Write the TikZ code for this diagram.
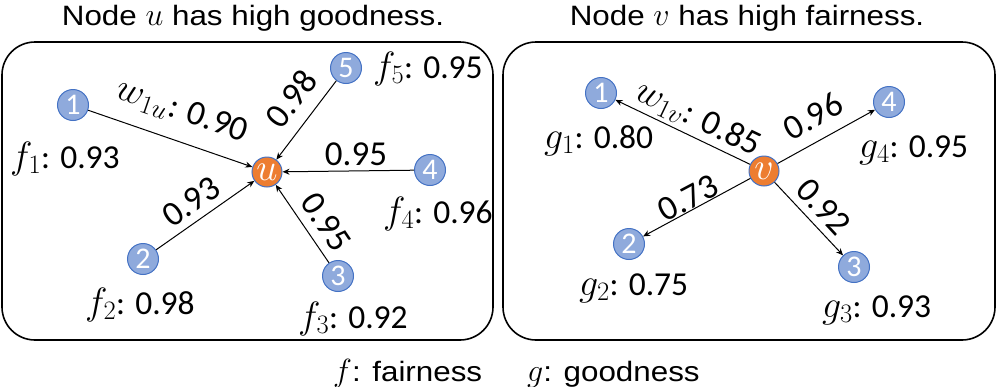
\RequirePackage{fix-cm}
\documentclass[tikz,border=0pt]{standalone}
\usepackage{fontspec}
\setmainfont{Carlito}
\newfontfamily\titlefont[FakeStretch=1.12]{Liberation Sans}
\usetikzlibrary{arrows.meta}
\definecolor{nodeblue}{HTML}{8FAADC}
\definecolor{edgeblue}{HTML}{4472C4}
\definecolor{hubor}{HTML}{ED7D31}
\newcommand{\mth}[1]{{\fontsize{38}{38}\selectfont$#1$}}
\newcommand{\mtt}[1]{{\fontsize{32}{32}\selectfont$#1$}}
\begin{document}
\begin{tikzpicture}[x=1pt,y=-1pt,
 leaf/.style={circle, fill=nodeblue, draw=edgeblue, line width=1pt, minimum size=31pt, inner sep=0pt, text=white, font=\fontsize{30}{30}\selectfont},
 hub/.style={circle, fill=hubor, draw=edgeblue, line width=1pt, minimum size=30pt, inner sep=0pt, text=white, font=\fontsize{38}{38}\selectfont},
 lbl/.style={font=\fontsize{35}{35}\selectfont, inner sep=0pt},
 ann/.style={font=\fontsize{33.5}{33.5}\selectfont, inner sep=0pt, anchor=base west},
 ttl/.style={font=\titlefont\fontsize{28}{28}\selectfont, inner sep=0pt, anchor=base},
 leg/.style={font=\titlefont\fontsize{28}{28}\selectfont, inner sep=0pt, anchor=base west},
 frame/.style={draw, line width=1.6pt, rounded corners=33pt},
 arr/.style={-{Stealth[length=7pt,width=6pt]}, line width=1pt}]
\useasboundingbox (0,0) rectangle (997,386);
% frames
\draw[frame] (2,42) rectangle (493,340);
\draw[frame] (503,42) rectangle (995,340);
% titles
\node[ttl] (t1) at (253,25) {Node \mtt{u} has high goodness.};
\node[ttl] (t2) at (747,25) {Node \mtt{v} has high fairness.};
% left graph
\node[hub] (u) at (267,172) {$u$};
\node[leaf] (a1) at (73,105) {1};
\node[leaf] (a2) at (143,259) {2};
\node[leaf] (a3) at (338,276) {3};
\node[leaf] (a4) at (430,170) {4};
\node[leaf] (a5) at (346,68) {5};
\draw[arr] (a1) -- (u);
\draw[arr] (a2) -- (u);
\draw[arr] (a3) -- (u);
\draw[arr] (a4) -- (u);
\draw[arr] (a5) -- (u);
\node[lbl, rotate=-19] (e1) at (182,112) {\mth{w_{1u}}: 0.90};
\node[lbl, rotate=52] (e5) at (291,99) {0.98};
\node[lbl] (e4) at (356,154) {0.95};
\node[lbl, rotate=35] (e2) at (191,202) {0.93};
\node[lbl, rotate=-56] (e3) at (326,222) {0.95};
\node[ann] (f1) at (10,168) {\mth{f_1}: 0.93};
\node[ann] (f5) at (373,78) {\mth{f_5}: 0.95};
\node[ann] (f4) at (383,223) {\mth{f_4}: 0.96};
\node[ann] (f2) at (85,314) {\mth{f_2}: 0.98};
\node[ann] (f3) at (298,328) {\mth{f_3}: 0.92};
% right graph
\node[hub] (v) at (764,171) {$v$};
\node[leaf] (b1) at (601,93) {1};
\node[leaf] (b2) at (629,244) {2};
\node[leaf] (b3) at (854,267) {3};
\node[leaf] (b4) at (889,102) {4};
\draw[arr] (v) -- (b1);
\draw[arr] (v) -- (b2);
\draw[arr] (v) -- (b3);
\draw[arr] (v) -- (b4);
\node[lbl, rotate=-25.6] (d1) at (698,119) {\mth{w_{1v}}: 0.85};
\node[lbl, rotate=29] (d4) at (813,116) {0.96};
\node[lbl, rotate=28] (d2) at (688,198) {0.73};
\node[lbl, rotate=-47] (d3) at (824,207) {0.92};
\node[ann] (g1) at (544,148) {\mth{g_1}: 0.80};
\node[ann] (g4) at (859,157) {\mth{g_4}: 0.95};
\node[ann] (g2) at (579,295) {\mth{g_2}: 0.75};
\node[ann] (g3) at (822,317) {\mth{g_3}: 0.93};
% legend
\node[leg] (lf) at (333,381) {\mtt{f}: fairness};
\node[leg] (lg) at (527,381) {\mtt{g}: goodness};
\end{tikzpicture}
\end{document}
